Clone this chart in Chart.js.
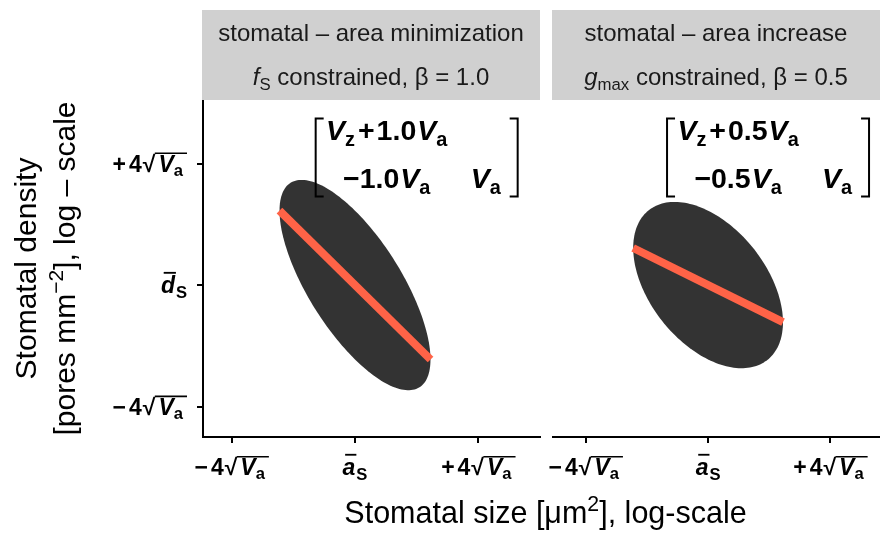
<!DOCTYPE html>
<html><head><meta charset="utf-8">
<script src="https://cdn.jsdelivr.net/npm/chart.js@4.4.1/dist/chart.umd.min.js"></script>
<style>
html,body{margin:0;padding:0;background:#fff;}
#wrap{position:relative;width:880px;height:533px;}
canvas{position:absolute;left:0;top:0;}
</style></head><body>
<div id="wrap"><canvas id="cL" width="880" height="533"></canvas><canvas id="cR" width="880" height="533"></canvas></div>
<script>
// ---------------- data ----------------
const panelTitles = ['stomatal – area minimization', 'stomatal – area increase'];
const constraintSymbols = ['f', 'g'];
const constraintSubs = ['S', 'max'];
const betaValues = [1.0, 0.5];
// covariance (units of sqrt(Va) on both axes)
const varSize = [1, 1];
const varDensity = [2, 1.25];
const covSizeDensity = [-1, -0.5];
const ellipseRadius = 2.448; // 95% contour
// regression line d = -beta * a
const lineX = [-2.45, 2.45];
const lineYLeft = [2.45, -2.45];
const lineYRight = [1.22, -1.22];
// axes
const tickValues = [-4, 0, 4];
const xTickLabels = ['−4√Va', 'āS', '+4√Va'];
const yTickLabels = ['−4√Va', 'd̄S', '+4√Va'];
const xRangeLeft = [-4.93, 6.0];
const xRangeRight = [-5.07, 5.62];
const yRange = [-5.0, 6.09];
// matrix annotation anchor (data coords)
const matrixX = [2.0, 1.96];
const matrixY = [4.2, 4.2];

// ---------------- rich text helpers ----------------
const FAM = '"Liberation Sans", Arial, Helvetica, sans-serif';
function fontStr(px, s) { return (s.it ? 'italic ' : '') + (s.bd ? 'bold ' : '') + px.toFixed(1) + 'px ' + FAM; }
function drawRich(ctx, segs, x, y, size, align, base) {
  base = base || {};
  const items = []; let cx = 0;
  for (const s0 of segs) {
    const s = Object.assign({}, base, s0);
    const px = size * (s.sc || 1);
    ctx.font = fontStr(px, s);
    cx += (s.gap || 0);
    const w = (s.t ? ctx.measureText(s.t).width : 0) + (s.w || 0);
    items.push({ s, px, x: cx, w });
    cx += w;
  }
  const total = cx;
  const x0 = align === 'center' ? x - total / 2 : align === 'right' ? x - total : x;
  ctx.textAlign = 'left'; ctx.textBaseline = 'alphabetic';
  ctx.fillStyle = base.color || '#000'; ctx.strokeStyle = base.color || '#000';
  let radStart = null, radEnd = null, radTop = null;
  for (const it of items) {
    const s = it.s;
    ctx.font = fontStr(it.px, s);
    const gx = x0 + it.x, gy = y + (s.dy || 0) * size;
    if (s.t) ctx.fillText(s.t, gx, gy);
    if (s.t === '√') {
      const m = ctx.measureText('√');
      radTop = gy - m.actualBoundingBoxAscent + 0.8;
      radStart = gx + m.actualBoundingBoxRight - 1;
    }
    if (s.over) {
      ctx.lineWidth = size * 0.08;
      ctx.beginPath(); ctx.moveTo(gx + it.w * 0.2, y - size * 0.88); ctx.lineTo(gx + it.w + 1, y - size * 0.88); ctx.stroke();
    }
    if (s.rad) radEnd = gx + it.w;
  }
  if (radStart !== null && radEnd !== null) {
    ctx.lineWidth = size * 0.07;
    ctx.beginPath(); ctx.moveTo(radStart, radTop); ctx.lineTo(radEnd, radTop); ctx.stroke();
  }
}
function richTick(lbl) {
  if (lbl.includes('√')) {
    const parts = lbl.split('√');
    const pre = parts[0], rad = parts[1];
    return [{ t: pre[0] }, { t: pre.slice(1), gap: 3 }, { t: '√', gap: 1 },
      { t: rad[0], it: 1, rad: 1, gap: 3 }, { t: rad.slice(1), sc: 0.72, dy: 0.18, rad: 1, w: 4 }];
  }
  const letter = lbl.normalize('NFD')[0];
  const sub = lbl.slice(-1);
  return [{ t: letter, it: 1, over: 1 }, { t: sub, sc: 0.72, dy: 0.22, gap: 1 }];
}

// ---------------- panel plugin ----------------
function panelPlugin(i, showY) {
  return {
    id: 'panel' + i,
    beforeDatasetsDraw(chart) {
      const ctx = chart.ctx, xs = chart.scales.x, ys = chart.scales.y;
      const va = varSize[i], vd = varDensity[i], c = covSizeDensity[i];
      const l11 = Math.sqrt(va), l21 = c / l11, l22 = Math.sqrt(vd - l21 * l21);
      ctx.save();
      ctx.fillStyle = '#333333';
      ctx.beginPath();
      const n = 180;
      for (let k = 0; k <= n; k++) {
        const t = 2 * Math.PI * k / n;
        const ex = ellipseRadius * l11 * Math.cos(t);
        const ey = ellipseRadius * (l21 * Math.cos(t) + l22 * Math.sin(t));
        const px = xs.getPixelForValue(ex), py = ys.getPixelForValue(ey);
        if (k === 0) ctx.moveTo(px, py); else ctx.lineTo(px, py);
      }
      ctx.closePath(); ctx.fill();
      ctx.restore();
    },
    afterDraw(chart) {
      const ctx = chart.ctx, a = chart.chartArea, xs = chart.scales.x, ys = chart.scales.y;
      ctx.save();
      // strip
      ctx.fillStyle = '#D0D0D0';
      ctx.fillRect(a.left - 1, a.top - 90, a.right - a.left + 1, 90);
      const sx = (a.left - 1 + a.right) / 2;
      drawRich(ctx, [{ t: panelTitles[i] }], sx, a.top - 59, 24, 'center', { color: '#1a1a1a' });
      drawRich(ctx, [{ t: constraintSymbols[i], it: 1 }, { t: constraintSubs[i], sc: 0.7, dy: 0.22 },
        { t: ' constrained, β = ' + betaValues[i].toFixed(1) }], sx, a.top - 15, 24, 'center', { color: '#1a1a1a' });
      // x tick labels
      tickValues.forEach((v, k) => {
        drawRich(ctx, richTick(xTickLabels[k]), xs.getPixelForValue(v), a.bottom + 38, 23, 'center', { bd: 1 });
      });
      if (showY) {
        tickValues.forEach((v, k) => {
          drawRich(ctx, richTick(yTickLabels[k]), a.left - 16, ys.getPixelForValue(v) + 8, 23, 'right', { bd: 1 });
        });
        const my = (a.top + a.bottom) / 2;
        ctx.save(); ctx.translate(36, my); ctx.rotate(-Math.PI / 2);
        drawRich(ctx, [{ t: 'Stomatal density' }], 0, 0, 30, 'center', {});
        ctx.restore();
        ctx.save(); ctx.translate(75, my); ctx.rotate(-Math.PI / 2);
        drawRich(ctx, [{ t: '[pores mm' }, { t: '−2', sc: 0.7, dy: -0.4 }, { t: '], log – scale' }], 0, 0, 30, 'center', {});
        ctx.restore();
      }
      // matrix annotation
      const mx = xs.getPixelForValue(matrixX[i]), my2 = ys.getPixelForValue(matrixY[i]);
      const b = betaValues[i].toFixed(1);
      const B = { bd: 1 };
      drawRich(ctx, [{ t: 'V', it: 1 }, { t: 'z', sc: 0.7, dy: 0.18 }, { t: '+', gap: 3 }, { t: b, gap: 2 },
        { t: 'V', it: 1, gap: 1 }, { t: 'a', sc: 0.7, dy: 0.18 }], mx - 30, my2 - 17, 28.5, 'center', B);
      drawRich(ctx, [{ t: '−' + b }, { t: 'V', it: 1, gap: 1 }, { t: 'a', sc: 0.7, dy: 0.18 }], mx - 30, my2 + 31, 28.5, 'center', B);
      drawRich(ctx, [{ t: 'V', it: 1 }, { t: 'a', sc: 0.7, dy: 0.18 }], mx + 69, my2 + 31, 28.5, 'center', B);
      ctx.strokeStyle = '#000'; ctx.lineWidth = 2;
      ctx.beginPath();
      ctx.moveTo(mx - 93, my2 - 39); ctx.lineTo(mx - 101, my2 - 39); ctx.lineTo(mx - 101, my2 + 39); ctx.lineTo(mx - 93, my2 + 39);
      ctx.moveTo(mx + 93, my2 - 39); ctx.lineTo(mx + 101, my2 - 39); ctx.lineTo(mx + 101, my2 + 39); ctx.lineTo(mx + 93, my2 + 39);
      ctx.stroke();
      // x axis title (drawn once, on the right panel)
      if (!showY && window.chartL) {
        const cxT = (window.chartL.chartArea.left + a.right) / 2 + 4;
        drawRich(ctx, [{ t: 'Stomatal size [μm' }, { t: '2', sc: 0.7, dy: -0.4 }, { t: '], log-scale' }], cxT, a.bottom + 86, 30.5, 'center', {});
      }
      ctx.restore();
    }
  };
}

function axisCfg(range, isX, show) {
  return {
    type: 'linear', display: show, min: range[0], max: range[1],
    afterBuildTicks: s => { s.ticks = tickValues.map(v => ({ value: v })); },
    afterFit: s => { if (isX) s.height = show ? 96 : 0; else s.width = show ? 203 : 0; },
    grid: { display: true, drawOnChartArea: false, drawTicks: true, tickLength: 6, color: '#000', lineWidth: 2 },
    border: { display: true, color: '#000', width: 2 },
    ticks: { callback: () => '', padding: 0, autoSkip: false }
  };
}

function makeChart(id, i, xRange, lineY, showY, pad) {
  return new Chart(document.getElementById(id), {
    type: 'scatter',
    data: { datasets: [{
      data: lineX.map((x, k) => ({ x, y: lineY[k] })),
      showLine: true, borderColor: '#FF6347', borderWidth: 8, borderCapStyle: 'butt',
      pointRadius: 0, pointHoverRadius: 0, clip: false
    }] },
    options: {
      responsive: false, animation: false, events: [],
      layout: { padding: pad },
      plugins: { legend: { display: false }, tooltip: { enabled: false } },
      scales: { x: axisCfg(xRange, true, true), y: axisCfg(yRange, false, showY) }
    },
    plugins: [panelPlugin(i, showY)]
  });
}
window.chartL = makeChart('cL', 0, xRangeLeft, lineYLeft, true, { left: 0, top: 100, right: 340, bottom: 0 });
window.chartR = makeChart('cR', 1, xRangeRight, lineYRight, false, { left: 553, top: 100, right: 0, bottom: 0 });
</script>
</body></html>
